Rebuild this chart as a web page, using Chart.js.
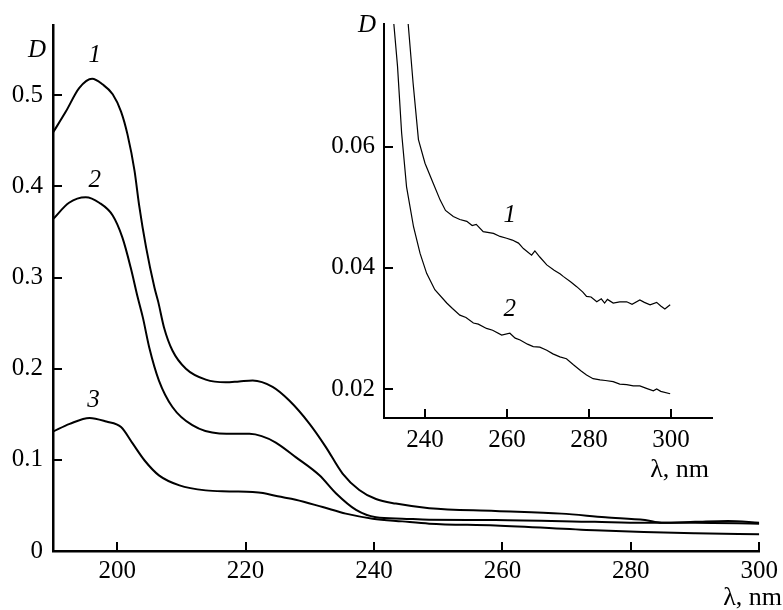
<!DOCTYPE html>
<html>
<head>
<meta charset="utf-8">
<script src="https://cdn.jsdelivr.net/npm/chart.js@4.4.0/dist/chart.umd.min.js"></script>
<style>
  html, body { margin: 0; padding: 0; background: #fff; }
  #wrap { position: relative; width: 783px; height: 610px; }
  #wrap canvas { position: absolute; left: 0; top: 0; }
</style>
</head>
<body>
<div id="wrap">
  <canvas id="mainChart" width="783" height="610"></canvas>
  <canvas id="insetChart" width="783" height="610"></canvas>
</div>
<script>
// main spectra: wavelength (nm) and optical density D
const curve1Wl = [190, 192, 194.1, 196.1, 197.7, 199.3, 200.6, 201.6, 202.7, 203.4, 204.5, 205.8, 206.4, 207.3, 208.6, 210.7, 213.8, 216.9, 219, 221.1, 224.2, 226.8, 229.9, 232.5, 235.1, 237.7, 240.3, 243.4, 248.6, 258.9, 269.2, 276, 282.2, 284.8, 290, 295.1, 300];
const curve1D  = [0.459, 0.482, 0.508, 0.518, 0.512, 0.501, 0.482, 0.457, 0.417, 0.380, 0.333, 0.289, 0.273, 0.245, 0.220, 0.200, 0.188, 0.185, 0.186, 0.187, 0.180, 0.165, 0.140, 0.114, 0.085, 0.067, 0.057, 0.052, 0.047, 0.044, 0.041, 0.037, 0.034, 0.031, 0.032, 0.033, 0.031];

const curve2Wl = [190, 192.5, 195.1, 197.2, 199.3, 200.8, 202.1, 203.2, 204, 205, 206.5, 208.6, 211.7, 215.9, 220.6, 222.5, 224.7, 227.8, 231.5, 234.1, 237.2, 240.3, 244.4, 248.6, 258.9, 274.4, 282, 290, 300];
const curve2D  = [0.364, 0.382, 0.388, 0.382, 0.368, 0.344, 0.311, 0.278, 0.256, 0.223, 0.187, 0.158, 0.138, 0.129, 0.1285, 0.126, 0.119, 0.103, 0.083, 0.063, 0.045, 0.037, 0.0355, 0.0344, 0.034, 0.032, 0.031, 0.031, 0.030];

const curve3Wl = [190, 192.6, 195.7, 198.3, 200.6, 202.4, 204.3, 206.5, 209.7, 213.8, 217.5, 221.1, 222.7, 225, 227.8, 232, 235.6, 239.8, 244.4, 248.6, 258.9, 274.4, 282, 290, 300];
const curve3D  = [0.131, 0.1395, 0.146, 0.142, 0.136, 0.118, 0.099, 0.083, 0.072, 0.0665, 0.0654, 0.0646, 0.0635, 0.060, 0.0563, 0.0482, 0.041, 0.0355, 0.0325, 0.030, 0.028, 0.0227, 0.0208, 0.0195, 0.0183];

// inset spectra
const inset1Wl = [235.9, 237.1, 238.4, 240, 242, 243.7, 245, 246.9, 248.5, 250.2, 251.5, 252.5, 254.2, 256.7, 258.3, 259.9, 261.3, 262.8, 264, 266, 266.8, 268, 269.7, 271.5, 273, 273.7, 275.5, 277, 278.5, 279.4, 280.5, 281.9, 283, 283.8, 284.5, 285.9, 287.5, 289.2, 290.5, 292.4, 293.5, 294.9, 296.5, 297.5, 298.5, 299.8];
const inset1D  = [0.0803, 0.0705, 0.0612, 0.0573, 0.054, 0.0512, 0.0495, 0.0485, 0.048, 0.0477, 0.047, 0.0472, 0.046, 0.0457, 0.0452, 0.0449, 0.0446, 0.0441, 0.0432, 0.0421, 0.0428, 0.0418, 0.0405, 0.0396, 0.039, 0.0386, 0.0377, 0.0369, 0.036, 0.0353, 0.0352, 0.0344, 0.0349, 0.0342, 0.0348, 0.0342, 0.0344, 0.0344, 0.034, 0.0347, 0.0343, 0.0339, 0.0343, 0.0337, 0.0332, 0.0339];

const inset2Wl = [232.4, 233.3, 234.3, 235.5, 237.2, 238.8, 240.4, 242.4, 245.3, 246.7, 248.5, 250, 251.8, 253, 255, 256.5, 258.7, 260.7, 262, 263.2, 265, 266.4, 268, 269.7, 271.2, 272.9, 274.5, 276.2, 278, 279.4, 281, 282.7, 284, 285.9, 287.5, 289.2, 290.8, 292.4, 294, 295.7, 296.5, 297.5, 299.8];
const inset2D  = [0.0803, 0.0733, 0.0623, 0.0534, 0.0468, 0.0424, 0.0391, 0.0364, 0.0342, 0.0333, 0.0322, 0.0318, 0.0309, 0.0307, 0.030, 0.0297, 0.0289, 0.0292, 0.0284, 0.0281, 0.0274, 0.027, 0.0269, 0.0264, 0.0258, 0.0253, 0.025, 0.024, 0.023, 0.0223, 0.0217, 0.0215, 0.0214, 0.0212, 0.0208, 0.0207, 0.0205, 0.0205, 0.0201, 0.0197, 0.02, 0.0196, 0.0192];

// ticks
const mainXTicks = [200, 220, 240, 260, 280, 300];
const mainYTicks = [0, 0.1, 0.2, 0.3, 0.4, 0.5];
const insetXTicks = [240, 260, 280, 300];
const insetYTicks = [0.02, 0.04, 0.06];

// curve numbers, anchored in data coordinates
const mainCurveLabels = [
  { text: '1', x: 196.5, y: 0.544 },
  { text: '2', x: 196.5, y: 0.407 },
  { text: '3', x: 196.3, y: 0.165 }
];
const insetCurveLabels = [
  { text: '1', x: 260.7, y: 0.0486 },
  { text: '2', x: 260.7, y: 0.0332 }
];

const SERIF = '"Liberation Serif", "Times New Roman", serif';
Chart.defaults.font.family = SERIF;
Chart.defaults.color = '#000';

const toPoints = (xs, ys) => xs.map((x, i) => ({ x: x, y: ys[i] }));

// inward tick marks + axis captions + curve numbers
const decorations = {
  id: 'decorations',
  afterDraw(chart, args, opts) {
    const { ctx, chartArea } = chart;
    const xs = chart.scales.x;
    const ys = chart.scales.y;
    ctx.save();
    ctx.strokeStyle = '#000';
    ctx.lineWidth = opts.tickWidth;
    ctx.beginPath();
    xs.ticks.forEach(t => {
      const px = Math.round(xs.getPixelForValue(t.value));
      ctx.moveTo(px, chartArea.bottom);
      ctx.lineTo(px, chartArea.bottom - opts.tickLen);
    });
    ys.ticks.forEach(t => {
      const py = Math.round(ys.getPixelForValue(t.value));
      ctx.moveTo(chartArea.left, py);
      ctx.lineTo(chartArea.left + opts.tickLen, py);
    });
    ctx.stroke();

    ctx.fillStyle = '#000';
    ctx.textBaseline = 'middle';
    ctx.textAlign = 'center';
    ctx.font = 'italic ' + opts.italicSize + 'px ' + SERIF;
    ctx.fillText('D', opts.dPos[0], opts.dPos[1]);
    opts.curveLabels.forEach(l => {
      ctx.fillText(l.text, xs.getPixelForValue(l.x), ys.getPixelForValue(l.y));
    });

    ctx.textAlign = 'right';
    ctx.font = opts.fontSize + 'px ' + SERIF;
    ctx.fillText('λ, nm', opts.lambdaPos[0], opts.lambdaPos[1]);
    ctx.restore();
  }
};

function makeOptions(cfg) {
  return {
    responsive: false,
    animation: false,
    devicePixelRatio: 1,
    events: [],
    layout: { padding: cfg.padding },
    plugins: {
      legend: { display: false },
      tooltip: { enabled: false },
      decorations: cfg.deco
    },
    elements: { point: { radius: 0 } },
    scales: {
      x: {
        type: 'linear',
        min: cfg.xMin,
        max: cfg.xMax,
        afterFit: s => { s.height = cfg.xAxisHeight; },
        afterBuildTicks: s => { s.ticks = cfg.xTicks.map(v => ({ value: v })); },
        grid: { display: false, drawTicks: false },
        border: { display: true, color: '#000', width: cfg.borderWidth },
        ticks: {
          autoSkip: false,
          maxRotation: 0,
          padding: cfg.xPad,
          font: { size: cfg.fontSize },
          callback: v => String(v)
        }
      },
      y: {
        type: 'linear',
        min: cfg.yMin,
        max: cfg.yMax,
        afterFit: s => { s.width = cfg.yAxisWidth; },
        afterBuildTicks: s => { s.ticks = cfg.yTicks.map(v => ({ value: v })); },
        grid: { display: false, drawTicks: false },
        border: { display: true, color: '#000', width: cfg.borderWidth },
        ticks: {
          autoSkip: false,
          padding: cfg.yPad,
          font: { size: cfg.fontSize },
          callback: v => v === 0 ? '0' : v.toFixed(cfg.yDigits)
        }
      }
    }
  };
}

new Chart(document.getElementById('mainChart'), {
  type: 'line',
  data: {
    datasets: [
      { data: toPoints(curve1Wl, curve1D) },
      { data: toPoints(curve2Wl, curve2D) },
      { data: toPoints(curve3Wl, curve3D) }
    ].map(d => Object.assign(d, { borderColor: '#000', borderWidth: 2, cubicInterpolationMode: 'monotone', fill: false }))
  },
  options: makeOptions({
    padding: { left: 0, top: 24, right: 22, bottom: 0 },
    xMin: 190, xMax: 300, yMin: 0, yMax: 0.577,
    xTicks: mainXTicks, yTicks: mainYTicks, yDigits: 1,
    xAxisHeight: 59, yAxisWidth: 53,
    borderWidth: 2.5, fontSize: 25, xPad: 5, yPad: 10,
    deco: {
      tickLen: 9, tickWidth: 2, italicSize: 25, fontSize: 26,
      dPos: [37, 50], lambdaPos: [782, 598],
      curveLabels: mainCurveLabels
    }
  }),
  plugins: [decorations]
});

new Chart(document.getElementById('insetChart'), {
  type: 'line',
  data: {
    datasets: [
      { data: toPoints(inset1Wl, inset1D) },
      { data: toPoints(inset2Wl, inset2D) }
    ].map(d => Object.assign(d, { borderColor: '#000', borderWidth: 1.2, tension: 0, fill: false }))
  },
  options: makeOptions({
    padding: { left: 314, top: 24, right: 71, bottom: 142 },
    xMin: 230, xMax: 310, yMin: 0.0152, yMax: 0.0803,
    xTicks: insetXTicks, yTicks: insetYTicks, yDigits: 2,
    xAxisHeight: 50, yAxisWidth: 70,
    borderWidth: 2, fontSize: 25, xPad: 7, yPad: 9,
    deco: {
      tickLen: 9, tickWidth: 2, italicSize: 25, fontSize: 26,
      dPos: [367, 25], lambdaPos: [709, 470],
      curveLabels: insetCurveLabels
    }
  }),
  plugins: [decorations]
});
</script>
</body>
</html>
